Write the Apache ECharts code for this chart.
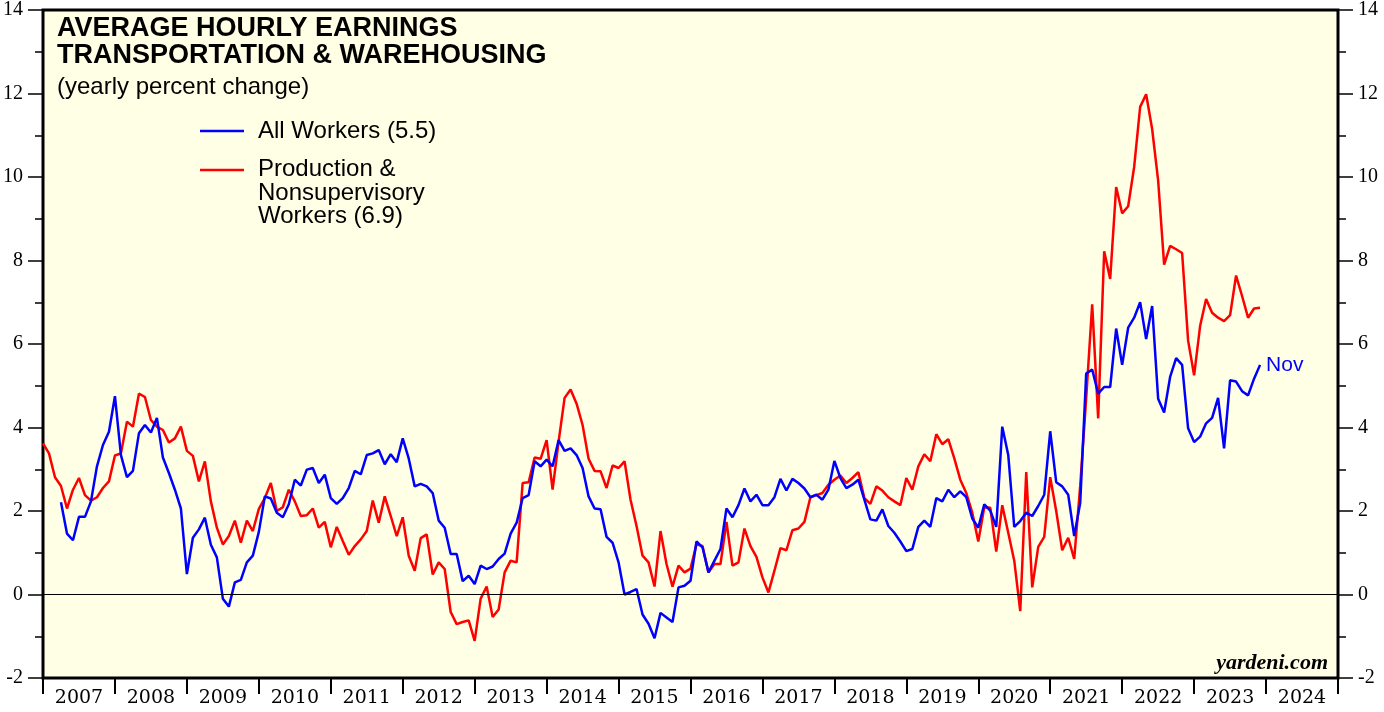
<!DOCTYPE html>
<html>
<head>
<meta charset="utf-8">
<script src="https://cdn.jsdelivr.net/npm/echarts@6/dist/echarts.min.js"></script>
<style>
  html, body { margin: 0; padding: 0; background: #fff; }
  #chart { width: 1384px; height: 712px; }
</style>
</head>
<body>
<div id="chart"></div>
<script>
// year labels on the bottom axis
var years = ['2007','2008','2009','2010','2011','2012','2013','2014','2015','2016','2017','2018','2019','2020','2021','2022','2023','2024'];
var yTicks = [-2, 0, 2, 4, 6, 8, 10, 12, 14];

// yearly % change, one value per month; index 0 sits at the start of 2007
var prodStart = 0;
var prodWorkers = [
  3.62,3.38,2.81,2.60,2.06,2.51,2.79,2.38,2.25,2.33,2.55,2.71,
  3.33,3.38,4.14,4.02,4.81,4.73,4.18,4.02,3.94,3.64,3.74,4.02,
  3.44,3.32,2.71,3.19,2.23,1.60,1.20,1.40,1.77,1.24,1.77,1.52,
  2.05,2.31,2.67,2.00,2.09,2.51,2.23,1.88,1.90,2.06,1.60,1.74,
  1.13,1.62,1.28,0.95,1.16,1.32,1.52,2.25,1.72,2.35,1.88,1.40,
  1.85,0.93,0.57,1.35,1.44,0.48,0.77,0.61,-0.42,-0.71,-0.66,-0.62,
  -1.11,-0.10,0.19,-0.54,-0.36,0.53,0.81,0.77,2.67,2.69,3.28,3.25,
  3.70,2.51,3.66,4.71,4.91,4.57,4.06,3.25,2.96,2.95,2.55,3.09,
  3.03,3.19,2.27,1.64,0.93,0.77,0.19,1.52,0.73,0.19,0.69,0.53,
  0.62,1.20,1.16,0.53,0.73,0.73,1.74,0.69,0.77,1.58,1.16,0.90,
  0.41,0.05,0.57,1.11,1.06,1.54,1.58,1.74,2.33,2.38,2.43,2.63,
  2.75,2.85,2.67,2.79,2.93,2.31,2.17,2.59,2.49,2.33,2.23,2.14,
  2.79,2.51,3.07,3.36,3.19,3.84,3.60,3.72,3.26,2.75,2.43,1.96,
  1.27,2.09,2.08,1.03,2.14,1.48,0.81,-0.40,2.93,0.17,1.14,1.38,
  2.81,2.00,1.06,1.36,0.85,2.60,4.70,6.95,4.22,8.22,7.56,9.76,
  9.13,9.30,10.24,11.68,11.98,11.15,9.92,7.90,8.35,8.27,8.18,6.08,
  5.25,6.43,7.08,6.75,6.63,6.55,6.69,7.64,7.15,6.63,6.85,6.87
];

var allStart = 3;
var allWorkers = [
  2.21,1.46,1.30,1.86,1.86,2.23,3.07,3.58,3.90,
  4.75,3.34,2.81,2.96,3.86,4.06,3.88,4.23,3.28,2.91,2.51,2.06,
  0.49,1.36,1.56,1.84,1.19,0.89,-0.10,-0.29,0.29,0.35,0.77,0.93,
  1.50,2.35,2.30,1.96,1.85,2.16,2.75,2.61,2.99,3.03,2.67,2.87,
  2.31,2.17,2.31,2.55,2.96,2.88,3.34,3.38,3.46,3.12,3.36,3.17,
  3.74,3.26,2.59,2.65,2.59,2.43,1.77,1.60,0.97,0.97,0.32,0.45,
  0.25,0.69,0.61,0.67,0.85,0.98,1.46,1.72,2.31,2.38,3.19,3.07,
  3.23,3.07,3.70,3.44,3.50,3.34,3.03,2.35,2.06,2.04,1.38,1.24,
  0.77,0.00,0.06,0.13,-0.48,-0.70,-1.05,-0.44,-0.55,-0.66,0.17,0.21,
  0.33,1.27,1.13,0.53,0.81,1.09,2.06,1.85,2.14,2.54,2.23,2.39,
  2.14,2.14,2.33,2.77,2.49,2.77,2.67,2.54,2.33,2.39,2.27,2.51,
  3.20,2.79,2.55,2.63,2.75,2.27,1.80,1.77,2.04,1.64,1.48,1.27,
  1.04,1.09,1.62,1.77,1.62,2.31,2.23,2.51,2.33,2.47,2.33,1.82,
  1.60,2.16,2.01,1.62,4.02,3.34,1.62,1.76,1.96,1.88,2.12,2.39,
  3.91,2.69,2.59,2.39,1.40,2.19,5.29,5.39,4.81,4.97,4.97,6.37,
  5.50,6.39,6.63,7.00,6.12,6.91,4.69,4.36,5.21,5.66,5.50,3.98,
  3.65,3.78,4.10,4.23,4.71,3.50,5.13,5.10,4.87,4.77,5.17,5.50
];

function toPairs(values, start) {
  return values.map(function (v, i) { return [start + i, v]; });
}

var chart = echarts.init(document.getElementById('chart'));
var serif = 'Liberation Serif';
var sans = 'Liberation Sans';

var yAxisBase = {
  type: 'value',
  min: yTicks[0],
  max: yTicks[yTicks.length - 1],
  interval: 2,
  axisLine: { show: false },
  axisTick: { show: true, length: 15, lineStyle: { color: '#000', width: 1.5 } },
  minorTick: { show: true, splitNumber: 2, length: 8, lineStyle: { color: '#000', width: 1.5 } },
  splitLine: { show: false },
  axisLabel: { margin: 20, fontFamily: serif, fontSize: 20, color: '#000' }
};

var option = {
  animation: false,
  backgroundColor: '#fff',
  title: {
    left: 57,
    top: 15,
    padding: 0,
    text: 'AVERAGE HOURLY EARNINGS\nTRANSPORTATION & WAREHOUSING',
    subtext: '(yearly percent change)',
    itemGap: 5,
    textStyle: { fontFamily: sans, fontSize: 27, fontWeight: 'bold', color: '#000', lineHeight: 27 },
    subtextStyle: { fontFamily: sans, fontSize: 24, color: '#000', lineHeight: 26 }
  },
  grid: {
    left: 42, right: 46, top: 5, bottom: 34,
    show: true,
    backgroundColor: '#FFFFE6',
    borderColor: '#000',
    borderWidth: 3
  },
  xAxis: [
    { type: 'value', min: 0, max: 216, show: false },
    {
      type: 'category',
      data: years,
      position: 'bottom',
      boundaryGap: true,
      axisLine: { show: false, onZero: false },
      axisTick: { show: true, interval: 0, length: 16, lineStyle: { color: '#000', width: 2 } },
      axisLabel: { interval: 0, margin: 11, fontFamily: 'DejaVu Serif', fontSize: 19, color: '#000' }
    }
  ],
  yAxis: [
    Object.assign({}, yAxisBase, { position: 'left' }),
    Object.assign({}, yAxisBase, { position: 'right' })
  ],
  series: [
    {
      name: 'Production & Nonsupervisory Workers',
      type: 'line',
      xAxisIndex: 0,
      yAxisIndex: 0,
      data: toPairs(prodWorkers, prodStart),
      showSymbol: false,
      lineStyle: { color: '#FF0000', width: 2.5 },
      markLine: {
        silent: true,
        symbol: 'none',
        label: { show: false },
        lineStyle: { color: '#000', width: 1, type: 'solid' },
        data: [{ yAxis: 0 }]
      }
    },
    {
      name: 'All Workers',
      type: 'line',
      xAxisIndex: 0,
      yAxisIndex: 0,
      data: toPairs(allWorkers, allStart),
      showSymbol: false,
      lineStyle: { color: '#0000FF', width: 2.5 },
      endLabel: {
        show: true,
        formatter: 'Nov',
        distance: 6,
        color: '#0000FF',
        fontFamily: sans,
        fontSize: 21
      }
    }
  ],
  graphic: [
    { type: 'line', shape: { x1: 200, y1: 131, x2: 244, y2: 131 }, style: { stroke: '#0000FF', lineWidth: 2.5 } },
    { type: 'text', x: 258, y: 131, style: { text: 'All Workers (5.5)', fontFamily: sans, fontSize: 24, fill: '#000', verticalAlign: 'middle' } },
    { type: 'line', shape: { x1: 200, y1: 170, x2: 244, y2: 170 }, style: { stroke: '#FF0000', lineWidth: 2.5 } },
    { type: 'text', x: 258, y: 158, style: { text: 'Production &\nNonsupervisory\nWorkers (6.9)', fontFamily: sans, fontSize: 24, lineHeight: 23.5, fill: '#000', verticalAlign: 'top' } },
    { type: 'text', x: 1328, y: 663, style: { text: 'yardeni.com', fontFamily: serif, fontSize: 22, fontWeight: 'bold', fontStyle: 'italic', fill: '#000', align: 'right', verticalAlign: 'middle' } }
  ]
};

chart.setOption(option);
</script>
</body>
</html>
